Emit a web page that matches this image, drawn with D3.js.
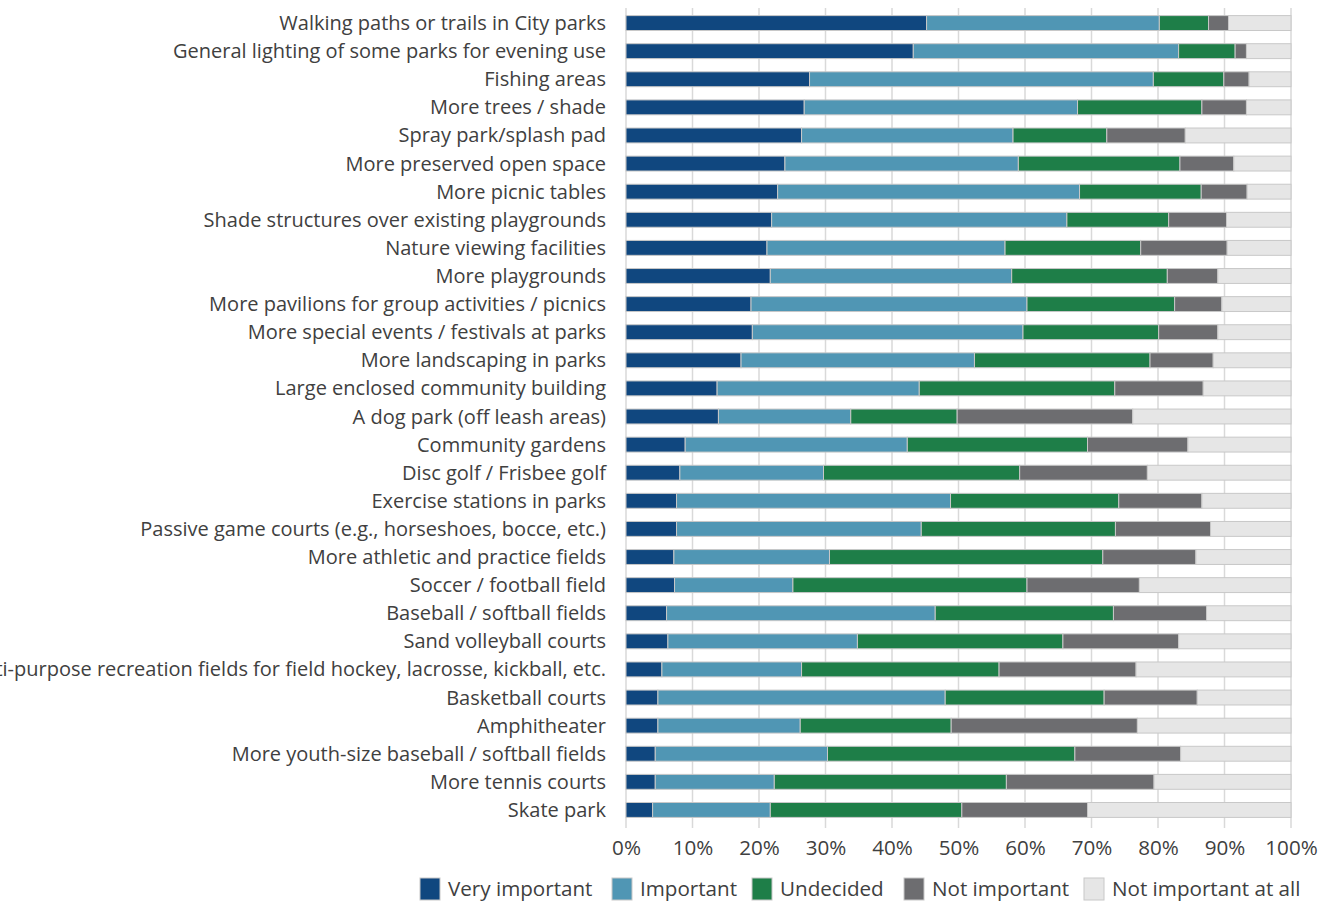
<!DOCTYPE html>
<html><head><meta charset="utf-8">
<script src="https://cdn.jsdelivr.net/npm/d3@7"></script>
<style>body{margin:0;background:#fff;}svg{display:block;font-family:"Open Sans",sans-serif;}</style>
</head><body><svg id="c" width="1320" height="901"></svg>
<script>
const categories = [
"Walking paths or trails in City parks",
"General lighting of some parks for evening use",
"Fishing areas",
"More trees / shade",
"Spray park/splash pad",
"More preserved open space",
"More picnic tables",
"Shade structures over existing playgrounds",
"Nature viewing facilities",
"More playgrounds",
"More pavilions for group activities / picnics",
"More special events / festivals at parks",
"More landscaping in parks",
"Large enclosed community building",
"A dog park (off leash areas)",
"Community gardens",
"Disc golf / Frisbee golf",
"Exercise stations in parks",
"Passive game courts (e.g., horseshoes, bocce, etc.)",
"More athletic and practice fields",
"Soccer / football field",
"Baseball / softball fields",
"Sand volleyball courts",
"Multi-purpose recreation fields for field hockey, lacrosse, kickball, etc.",
"Basketball courts",
"Amphitheater",
"More youth-size baseball / softball fields",
"More tennis courts",
"Skate park"];
const seriesNames = ["Very important","Important","Undecided","Not important","Not important at all"];
const veryImportant = [45.2,43.2,27.6,26.8,26.4,23.9,22.8,21.9,21.2,21.7,18.8,19.0,17.3,13.7,13.9,8.9,8.1,7.6,7.6,7.2,7.3,6.1,6.3,5.4,4.8,4.8,4.4,4.4,4.0];
const important = [35.0,39.9,51.7,41.1,31.8,35.1,45.4,44.4,35.8,36.3,41.5,40.7,35.1,30.4,19.9,33.4,21.6,41.2,36.8,23.4,17.8,40.4,28.5,21.0,43.2,21.4,25.9,17.9,17.7];
const undecided = [7.4,8.5,10.6,18.7,14.1,24.3,18.3,15.3,20.4,23.4,22.2,20.4,26.4,29.4,16.0,27.1,29.5,25.3,29.2,41.1,35.2,26.8,30.9,29.7,23.9,22.7,37.2,34.9,28.8];
const notImportant = [3.0,1.7,3.8,6.7,11.8,8.1,6.9,8.7,13.0,7.6,7.1,8.9,9.5,13.3,26.4,15.1,19.2,12.5,14.3,14.0,16.9,14.0,17.4,20.6,14.0,28.0,15.9,22.2,18.9];
const notAtAll = [9.4,6.7,6.3,6.7,15.9,8.6,6.6,9.7,9.6,11.0,10.4,11.0,11.7,13.2,23.8,15.5,21.6,13.4,12.1,14.3,22.8,12.7,16.9,23.3,14.1,23.1,16.6,20.6,30.6];
const tickValues = [0,10,20,30,40,50,60,70,80,90,100];
const colors = ["#10477f","#5096b4","#1e7e48","#6d6d70","#e6e6e6"];

const seriesArrays = [veryImportant, important, undecided, notImportant, notAtAll];
const rows = categories.map((c,i)=>{const o={cat:c}; seriesNames.forEach((s,j)=>o[s]=seriesArrays[j][i]); return o;});
const stack = d3.stack().keys(seriesNames)(rows);

const svg = d3.select("#c");
const x = d3.scaleLinear().domain([0,100]).range([626,1291]);
const y = d3.scaleBand().domain(categories).range([9,824]).paddingInner(0.47).paddingOuter(0.235);
const textColor = "#404040";

// label font sizing
const probe = svg.append("text").attr("font-size",20).text(categories[0]);
const w = probe.node().getComputedTextLength(); probe.remove();
const fs = 20*327/w;

// gridlines
svg.append("g").selectAll("line").data(tickValues).join("line")
 .attr("x1",d=>x(d)).attr("x2",d=>x(d)).attr("y1",8).attr("y2",828)
 .attr("stroke","#d9d9d9").attr("stroke-width",1.5);

// bars
svg.append("g").selectAll("g").data(stack).join("g").attr("fill",(d,i)=>colors[i])
 .selectAll("rect").data(d=>d).join("rect")
 .attr("x",d=>x(d[0])).attr("width",d=>x(d[1])-x(d[0]))
 .attr("y",d=>y(d.data.cat)).attr("height",y.bandwidth())
 .attr("stroke","#c8c8c8").attr("stroke-width",1);

// category labels
svg.append("g").selectAll("text").data(categories).join("text")
 .attr("x",606).attr("y",d=>y(d)+y.bandwidth()/2).attr("dy","0.35em")
 .attr("text-anchor","end").attr("font-size",fs).attr("fill",textColor).text(d=>d);

// x axis
const ax = svg.append("g").attr("transform","translate(0,824)")
 .call(d3.axisBottom(x).tickValues(tickValues).tickFormat(d=>d+"%").tickSize(0).tickPadding(16));
ax.select(".domain").remove();
ax.selectAll("text").attr("font-size",fs*1.03).attr("fill",textColor).attr("font-family","'Open Sans',sans-serif");

// legend
const legX = [420,612,752,904,1084];
const lg = svg.append("g").selectAll("g").data(seriesNames).join("g")
 .attr("transform",(d,i)=>`translate(${legX[i]},878)`);
lg.append("rect").attr("width",20).attr("height",22).attr("fill",(d,i)=>colors[i]).attr("stroke","#c8c8c8");
lg.append("text").attr("x",28).attr("y",11).attr("dy","0.35em").attr("font-size",fs*1.03).attr("fill",textColor).text(d=>d);
</script></body></html>
